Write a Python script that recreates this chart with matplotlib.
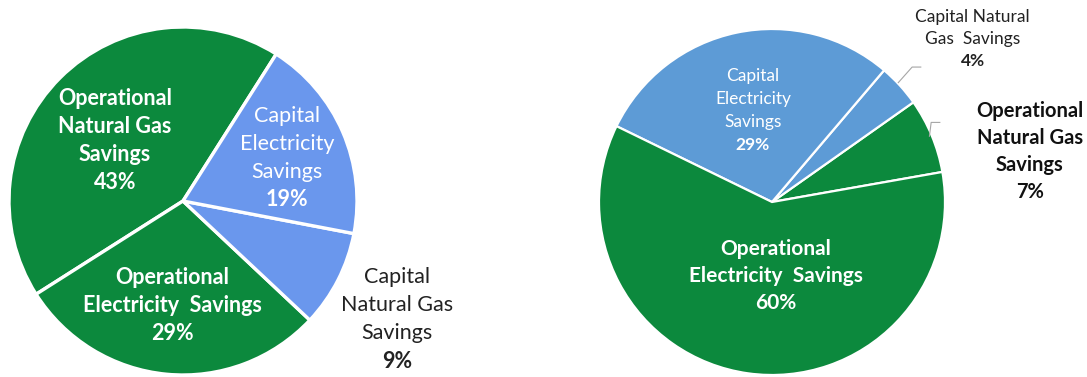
import matplotlib.pyplot as plt

# left pie (counter-clockwise from the start angle)
left_labels = ['Operational Natural Gas Savings', 'Operational Electricity Savings',
               'Capital Natural Gas Savings', 'Capital Electricity Savings']
left_values = [43, 29, 9, 19]
# right pie
right_labels = ['Operational Natural Gas Savings', 'Capital Natural Gas Savings',
                'Capital Electricity Savings', 'Operational Electricity Savings']
right_values = [7, 4, 29, 60]

green = '#0c893d'
blue_l = '#6a97ed'
blue_r = '#5d9bd6'

plt.rcParams['font.family'] = ['Lato', 'DejaVu Sans']

W, H = 1087, 377
LIM = 1.03
fig = plt.figure(figsize=(W / 100, H / 100), dpi=100)


def make_ax(cx, cy, r):
    s = r * LIM
    ax = fig.add_axes([(cx - s) / W, (H - cy - s) / H, 2 * s / W, 2 * s / H])
    ax.axis('off')
    return ax


def fix_lims(ax):
    # pie() sets its own limits, so put ours back afterwards
    ax.set_xlim(-LIM, LIM)
    ax.set_ylim(-LIM, LIM)
    ax.set_aspect('equal')


def put(ax, x, y, lines, size, color, weights, step):
    # one text per line so the weight can change inside a label
    n = len(lines)
    for i, (t, w) in enumerate(zip(lines, weights)):
        off = ((n - 1) / 2 - i) * step * 0.72
        ax.annotate(t, (x, y), xytext=(0, off), textcoords='offset points',
                    ha='center', va='center', fontsize=size, color=color,
                    fontweight=w, annotation_clip=False)


# ---- left
ax1 = make_ax(183, 201, 174)
ax1.pie(left_values, colors=[green, green, blue_l, blue_l], startangle=57.6,
        counterclock=True, radius=1,
        wedgeprops=dict(edgecolor='white', linewidth=2.4))
fix_lims(ax1)
put(ax1, -0.39, 0.35, ['Operational', 'Natural Gas', 'Savings', '43%'], 15.5, 'white',
    ['bold'] * 4, 28)
put(ax1, 0.60, 0.25, ['Capital', 'Electricity', 'Savings', '19%'], 15.5, 'white',
    ['normal', 'normal', 'normal', 'bold'], 28)
put(ax1, -0.06, -0.60, ['Operational', 'Electricity  Savings', '29%'], 15.5, 'white',
    ['bold'] * 3, 28)
put(ax1, 1.23, -0.68, ['Capital', 'Natural Gas', 'Savings', '9%'], 15.5, '#222222',
    ['normal', 'normal', 'normal', 'bold'], 28)

# ---- right
ax2 = make_ax(772, 202, 173)
ax2.pie(right_values, colors=[green, blue_r, blue_r, green], startangle=10,
        counterclock=True, radius=1,
        wedgeprops=dict(edgecolor='white', linewidth=1.6))
fix_lims(ax2)
put(ax2, -0.11, 0.53, ['Capital', 'Electricity', 'Savings', '29%'], 12.5, 'white',
    ['normal', 'normal', 'normal', 'bold'], 23)
put(ax2, 0.02, -0.43, ['Operational', 'Electricity  Savings', '60%'], 15, 'white',
    ['bold'] * 3, 27)
put(ax2, 1.16, 0.94, ['Capital Natural', 'Gas  Savings', '4%'], 12.5, '#222222',
    ['normal', 'normal', 'bold'], 22)
put(ax2, 1.49, 0.29, ['Operational', 'Natural Gas', 'Savings', '7%'], 14.5, '#111111',
    ['bold'] * 4, 27)

# leader lines
ax2.plot([0.73, 0.81, 0.86], [0.69, 0.78, 0.78], color='#a6a6a6', lw=0.8, clip_on=False)
ax2.plot([0.91, 0.92, 0.97], [0.38, 0.46, 0.46], color='#a6a6a6', lw=0.8, clip_on=False)

fig.savefig('out.png', dpi=100, facecolor='white')
